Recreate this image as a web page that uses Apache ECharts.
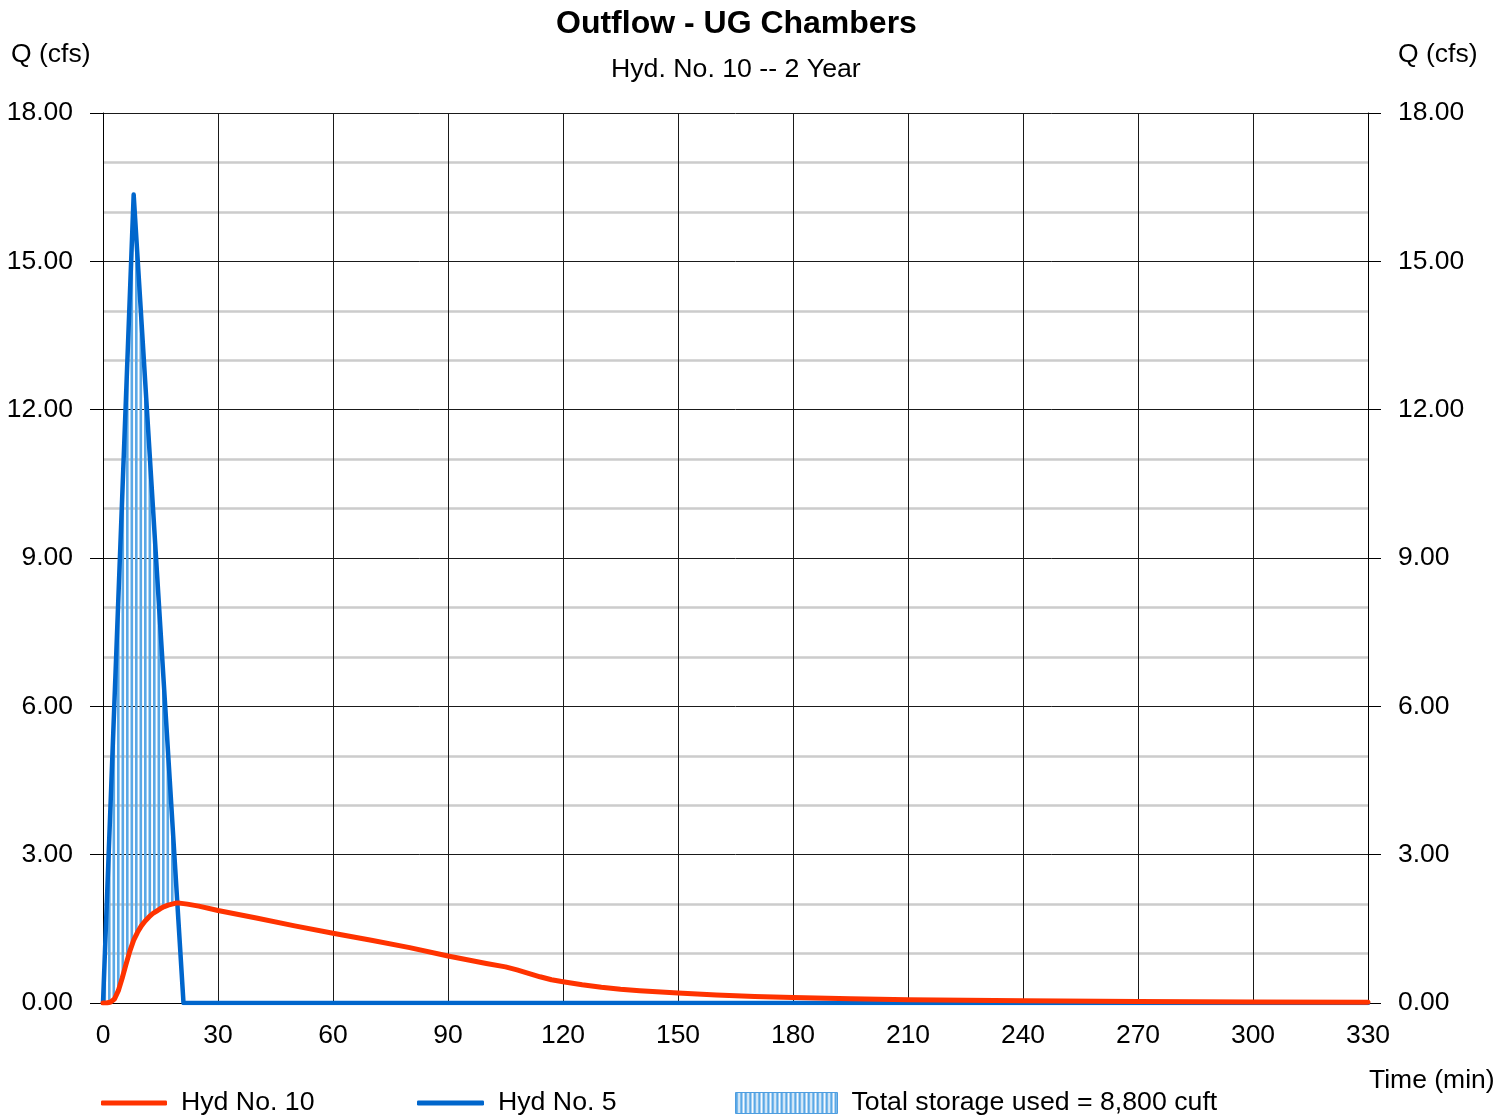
<!DOCTYPE html>
<html>
<head>
<meta charset="utf-8">
<title>Outflow - UG Chambers</title>
<script src="https://cdn.jsdelivr.net/npm/echarts@6/dist/echarts.min.js"></script>
<style>
  html, body { margin: 0; padding: 0; background: #fff; }
  #chart { width: 1512px; height: 1116px; }
</style>
</head>
<body>
<div id="chart"></div>
<script>
// Outflow hydrograph (Hyd No. 10) – time in minutes, flow in cfs
const outflowTime = [0, 1, 2, 3, 4, 5, 6, 7, 8, 9, 10, 11, 12, 13, 14, 15, 16, 17, 18, 19, 20, 21, 22, 25,
  30, 40, 50, 60, 70, 80, 90, 100, 105, 108, 111, 114, 117, 120, 125, 130, 135, 140, 150, 160, 170, 180,
  195, 210, 225, 240, 270, 300, 330];
const outflowQ = [0, 0.0, 0.02, 0.08, 0.25, 0.5, 0.78, 1.05, 1.27, 1.43, 1.56, 1.66, 1.74, 1.81, 1.86, 1.91,
  1.95, 1.98, 2.0, 2.02, 2.02, 2.01, 2.0, 1.96, 1.87, 1.72, 1.56, 1.41, 1.27, 1.12, 0.95, 0.8, 0.73, 0.67,
  0.6, 0.53, 0.47, 0.43, 0.37, 0.32, 0.28, 0.25, 0.2, 0.16, 0.13, 0.11, 0.085, 0.068, 0.056, 0.046, 0.032,
  0.022, 0.015];

// Inflow hydrograph (Hyd No. 5)
const inflowTime = [0, 8, 21, 330];
const inflowQ = [0, 16.35, 0, 0];

// Axis ticks
const xMin = 0, xMax = 330, xStep = 30;
const yMin = 0, yMax = 18, yStep = 3;

const FONT = 'Liberation Sans, Arial, Helvetica, sans-serif';
const RED = '#ff3300';
const BLUE = '#0066cc';

// vertical-stripe fill for the storage region
function stripePattern() {
  const c = document.createElement('canvas');
  c.width = 9; c.height = 4;
  const ctx = c.getContext('2d');
  ctx.fillStyle = '#5aa8e6';
  ctx.fillRect(0, 0, 2.6, 4);
  ctx.fillRect(4.5, 0, 2.6, 4);
  return { image: c, repeat: 'repeat' };
}
const stripes = stripePattern();

function pairs(ts, qs) { return ts.map((t, i) => [t, qs[i]]); }

function inflowAt(t) {
  for (let i = 0; i < inflowTime.length - 1; i++) {
    const t0 = inflowTime[i], t1 = inflowTime[i + 1];
    if (t >= t0 && t <= t1) {
      return inflowQ[i] + (inflowQ[i + 1] - inflowQ[i]) * (t - t0) / (t1 - t0);
    }
  }
  return 0;
}

// Region where inflow exceeds outflow (the storage used)
function storageOutline() {
  const lower = [[outflowTime[0], outflowQ[0]]];
  let cross = null;
  for (let i = 1; i < outflowTime.length; i++) {
    const t = outflowTime[i], q = outflowQ[i];
    const d = inflowAt(t) - q;
    if (d <= 0) {
      const tp = outflowTime[i - 1], qp = outflowQ[i - 1];
      const dp = inflowAt(tp) - qp;
      const f = dp / (dp - d);
      const tc = tp + f * (t - tp);
      cross = [tc, qp + f * (q - qp)];
      break;
    }
    lower.push([t, q]);
  }
  const upper = [];
  for (let i = 0; i < inflowTime.length; i++) {
    if (inflowTime[i] < cross[0]) upper.push([inflowTime[i], inflowQ[i]]);
  }
  upper.push(cross);
  return upper.concat(lower.slice(1).reverse());
}
const storagePoly = storageOutline();

const chart = echarts.init(document.getElementById('chart'), null, { renderer: 'canvas' });

const axisLabelY = {
  fontFamily: FONT, fontSize: 26.5, color: '#000', margin: 30,
  padding: [5, 0, 0, 0], backgroundColor: 'rgba(255,255,255,0)',
  formatter: v => v.toFixed(2)
};

const legendText = { fontFamily: FONT, fontSize: 26.7, color: '#000', lineHeight: 30, padding: [0, 0, 0, 9] };

const option = {
  backgroundColor: '#fff',
  animation: false,
  title: [
    {
      text: 'Outflow - UG Chambers', left: 556, top: 6, padding: 0,
      textStyle: { fontFamily: FONT, fontSize: 32, fontWeight: 'bold', color: '#000', lineHeight: 36 }
    },
    {
      text: 'Hyd. No. 10 -- 2 Year', left: 611, top: 55, padding: 0,
      textStyle: { fontFamily: FONT, fontSize: 26.7, fontWeight: 'normal', color: '#000', lineHeight: 30 }
    }
  ],
  grid: { left: 103, right: 144, top: 113, bottom: 113, containLabel: false },
  legend: [
    {
      left: 101, top: 1088, padding: 0, itemWidth: 66, itemHeight: 5,
      data: [{ name: 'Hyd No. 10', icon: 'roundRect' }],
      textStyle: legendText, selectedMode: false
    },
    {
      left: 417, top: 1088, padding: 0, itemWidth: 67, itemHeight: 5,
      data: [{ name: 'Hyd No. 5', icon: 'roundRect' }],
      textStyle: legendText, selectedMode: false
    },
    {
      left: 735, top: 1088, padding: 0, itemWidth: 102, itemHeight: 21,
      data: [{
        name: 'Total storage used = 8,800 cuft', icon: 'rect',
        itemStyle: { color: stripes, borderColor: '#4d9de0', borderWidth: 1 }
      }],
      textStyle: legendText, selectedMode: false
    }
  ],
  xAxis: {
    type: 'value', min: xMin, max: xMax, interval: xStep,
    axisLine: { show: true, onZero: false, lineStyle: { color: '#000', width: 1 } },
    axisTick: { show: false },
    axisLabel: { fontFamily: FONT, fontSize: 26.5, color: '#000', margin: 19 },
    splitLine: { show: true, lineStyle: { color: '#1a1a1a', width: 1 } }
  },
  yAxis: [
    {
      type: 'value', min: yMin, max: yMax, interval: yStep, position: 'left',
      axisLine: { show: true, lineStyle: { color: '#000', width: 1 } },
      axisTick: { show: true, inside: false, length: 13, lineStyle: { color: '#000', width: 1 } },
      axisLabel: axisLabelY,
      splitLine: { show: true, lineStyle: { color: '#1a1a1a', width: 1 } },
      minorTick: { show: false, splitNumber: 3 },
      minorSplitLine: { show: true, lineStyle: { color: '#cccccc', width: 2.5 } }
    },
    {
      type: 'value', min: yMin, max: yMax, interval: yStep, position: 'right',
      axisLine: { show: true, lineStyle: { color: '#000', width: 1 } },
      axisTick: { show: true, inside: false, length: 13, lineStyle: { color: '#000', width: 1 } },
      axisLabel: axisLabelY,
      splitLine: { show: false }
    }
  ],
  graphic: [
    { type: 'text', left: 11, top: 41, style: { text: 'Q (cfs)', fontFamily: FONT, fontSize: 26.5, fill: '#000' } },
    { type: 'text', left: 1398, top: 41, style: { text: 'Q (cfs)', fontFamily: FONT, fontSize: 26.5, fill: '#000' } },
    { type: 'text', left: 1369, top: 1067, style: { text: 'Time (min)', fontFamily: FONT, fontSize: 26.5, fill: '#000' } }
  ],
  series: [
    {
      name: 'Total storage used = 8,800 cuft',
      type: 'custom',
      z: 2,
      silent: true,
      itemStyle: { color: '#5aa8e6' },
      data: [[0, 0]],
      encode: { x: 0, y: 1 },
      renderItem: function (params, api) {
        const pts = storagePoly.map(p => api.coord(p));
        return {
          type: 'polygon',
          shape: { points: pts },
          style: { fill: stripes, stroke: null }
        };
      }
    },
    {
      name: 'Hyd No. 5',
      type: 'line',
      z: 3,
      data: pairs(inflowTime, inflowQ),
      showSymbol: false,
      symbol: 'none',
      lineStyle: { color: BLUE, width: 4.5, cap: 'round', join: 'round' },
      itemStyle: { color: BLUE }
    },
    {
      name: 'Hyd No. 10',
      type: 'line',
      z: 4,
      data: pairs(outflowTime, outflowQ),
      showSymbol: false,
      symbol: 'none',
      smooth: false,
      lineStyle: { color: RED, width: 5, cap: 'round', join: 'round' },
      itemStyle: { color: RED }
    }
  ]
};

chart.setOption(option);
</script>
</body>
</html>
